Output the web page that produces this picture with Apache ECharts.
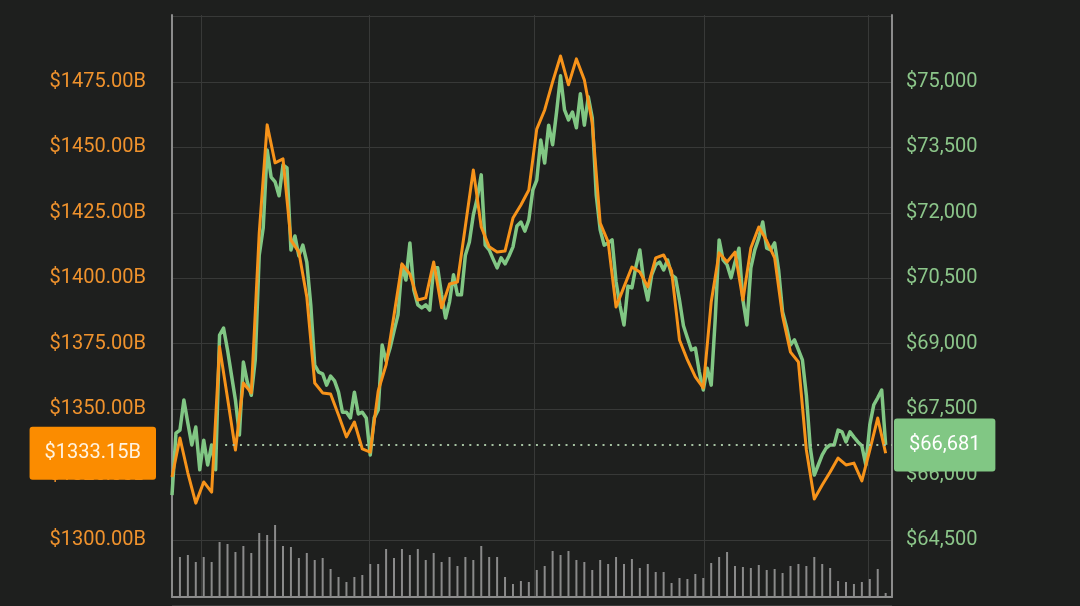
<!DOCTYPE html>
<html>
<head>
<meta charset="utf-8">
<script src="https://cdn.jsdelivr.net/npm/echarts@6/dist/echarts.min.js"></script>
<style>
html,body{margin:0;padding:0;background:#1e1f1e;}
#chart{width:1080px;height:606px;}
</style>
</head>
<body>
<div id="chart"></div>
<script>
// ---- data ----
// market cap (billions USD), one value per volume bar
const marketCapB = [
  1324.1, 1339.0, 1325.6, 1314.1, 1322.2, 1318.3, 1373.8, 1354.3, 1334.4, 1360.0,
  1356.2, 1417.3, 1458.6, 1444.1, 1445.6, 1414.6, 1410.0, 1392.9, 1360.0, 1356.2,
  1355.8, 1347.8, 1339.4, 1345.1, 1334.8, 1333.6, 1356.9, 1366.9, 1386.0, 1405.5,
  1401.6, 1391.7, 1392.5, 1406.2, 1388.7, 1397.8, 1398.6, 1420.0, 1441.4, 1419.6,
  1412.0, 1410.0, 1410.4, 1423.0, 1428.0, 1433.7, 1457.0, 1464.3, 1475.0, 1484.9,
  1473.9, 1483.8, 1475.8, 1459.3, 1421.1, 1413.9, 1389.0, 1396.7, 1404.3, 1402.4,
  1396.7, 1407.8, 1408.9, 1402.8, 1376.4, 1368.8, 1362.3, 1358.1, 1390.9, 1409.7,
  1406.2, 1410.0, 1391.7, 1411.6, 1419.6, 1414.3, 1407.8, 1385.6, 1371.8, 1368.0,
  1334.4, 1315.7, 1321.0, 1326.0, 1331.3, 1328.7, 1329.4, 1322.6, 1334.4, 1346.6,
  1333.15
];
// price (USD), two values per volume bar
const priceUsd = [
  65530, 66950, 67020, 67710, 67180, 66680, 67090, 66110, 66790, 66220,
  66680, 66110, 69200, 69360, 68860, 68280, 67710, 66910, 68580, 68120,
  67820, 68630, 71030, 71650, 73440, 72820, 72710, 72390, 73100, 73030,
  71150, 71470, 71010, 71260, 70870, 69890, 68510, 68350, 68310, 68050,
  68260, 68150, 67890, 67430, 67430, 67300, 67890, 67390, 67430, 67300,
  66450, 67300, 67480, 68970, 68600, 68900, 69290, 69660, 70800, 70460,
  71310, 70230, 69890, 69820, 69890, 69770, 70740, 70740, 70120, 69590,
  69960, 70580, 70120, 70120, 71030, 71330, 71950, 72340, 72870, 71260,
  71150, 70940, 70740, 70970, 70830, 71010, 71220, 71700, 71790, 71580,
  71840, 72520, 72750, 73670, 73140, 74010, 73560, 74310, 75140, 74360,
  74130, 74310, 73950, 74730, 74010, 74660, 74180, 72410, 71610, 71260,
  71310, 71380, 70420, 69870, 69430, 70320, 70280, 70760, 71150, 70420,
  70000, 70580, 70810, 70870, 70690, 70920, 70580, 70510, 70000, 69410,
  69130, 68860, 68900, 68350, 67940, 68440, 68050, 69540, 71380, 70920,
  70810, 70510, 70870, 71190, 70000, 69430, 70740, 71150, 71420, 71790,
  71190, 71150, 71310, 70690, 69730, 69380, 68970, 69090, 68860, 68630,
  67820, 66610, 65990, 66220, 66450, 66610, 66680, 66680, 67020, 66980,
  66750, 66980, 66860, 66750, 66660, 66220, 67140, 67600, 67760, 67940,
  66681
];
// traded volume (relative units)
const volume = [
  29,
  40, 42, 35, 40, 35, 55, 53, 45, 51, 44, 64, 62, 72, 51, 50,
  39, 44, 37, 39, 28, 20, 15, 20, 22, 33, 33, 48, 39, 48, 42,
  48, 37, 44, 35, 40, 31, 40, 37, 51, 40, 40, 20, 13, 16, 15,
  27, 31, 46, 42, 46, 37, 35, 27, 37, 33, 40, 33, 38, 29, 33,
  25, 25, 14, 19, 18, 23, 19, 34, 40, 45, 31, 30, 29, 32, 27,
  28, 24, 31, 33, 31, 40, 33, 29, 16, 15, 13, 15, 18, 28, 4
];
// axis ticks
const capAxis = { min: 1275, max: 1500, step: 25 };
const priceAxis = { min: 63000, max: 76500, step: 1500 };
const timeAxisMax = 90.8;
const timeGridTicks = [3.66, 24.84, 45.65, 67.09, 87.77];
const referenceLineStart = 6.7;

const lastCap = marketCapB[marketCapB.length - 1];
const lastPrice = priceUsd[priceUsd.length - 1];

const chart = echarts.init(document.getElementById('chart'), null, { renderer: 'canvas' });

const gridLineColor = '#383938';
const frameColor = '#8c8c8c';

const option = {
  backgroundColor: '#1e1f1e',
  animation: false,
  textStyle: { fontFamily: 'Roboto' },
  grid: [
    { left: 172, right: 188, top: 16.5, height: 589 },
    { left: 172, right: 188, top: 15, bottom: 9 }
  ],
  xAxis: [
    {
      gridIndex: 0, type: 'value', min: 0, max: timeAxisMax,
      axisLine: { show: false, onZero: false },
      axisTick: { show: false }, axisLabel: { show: false },
      splitLine: { show: false }
    },
    {
      gridIndex: 1, type: 'value', min: 0, max: timeAxisMax,
      axisLine: { show: true, onZero: false, lineStyle: { color: frameColor, width: 2 } },
      axisTick: { show: false, customValues: timeGridTicks },
      axisLabel: { show: false },
      splitLine: { show: true, lineStyle: { color: gridLineColor, width: 1 } }
    }
  ],
  yAxis: [
    {
      gridIndex: 0, type: 'value', position: 'left',
      min: capAxis.min, max: capAxis.max, interval: capAxis.step,
      axisLine: { show: false, onZero: false }, axisTick: { show: false },
      axisLabel: {
        color: '#ef922d', fontSize: 20, margin: 26, fontFamily: 'Roboto',
        showMinLabel: false, showMaxLabel: false,
        formatter: v => '$' + v.toFixed(2) + 'B'
      },
      splitLine: { show: true, lineStyle: { color: gridLineColor, width: 1 } }
    },
    {
      gridIndex: 0, type: 'value', position: 'right',
      min: priceAxis.min, max: priceAxis.max, interval: priceAxis.step,
      axisLine: { show: false, onZero: false }, axisTick: { show: false },
      axisLabel: {
        color: '#8cc68a', fontSize: 20, margin: 14, fontFamily: 'Roboto',
        showMinLabel: false, showMaxLabel: false,
        formatter: v => '$' + v.toLocaleString('en-US')
      },
      splitLine: { show: false }
    },
    {
      gridIndex: 1, type: 'value', position: 'left', min: 0, max: 582,
      axisLine: { show: true, onZero: false, lineStyle: { color: frameColor, width: 2 } },
      axisTick: { show: false }, axisLabel: { show: false }, splitLine: { show: false }
    },
    {
      gridIndex: 1, type: 'value', position: 'right', min: 0, max: 582,
      axisLine: { show: true, onZero: false, lineStyle: { color: frameColor, width: 2 } },
      axisTick: { show: false }, axisLabel: { show: false }, splitLine: { show: false }
    }
  ],
  series: [
    {
      name: 'Volume', type: 'bar', xAxisIndex: 1, yAxisIndex: 2,
      data: volume.map((v, i) => [i, v]),
      barWidth: 2, silent: true,
      itemStyle: { color: '#8a8a8a' }
    },
    {
      name: 'Price', type: 'line', xAxisIndex: 0, yAxisIndex: 1,
      data: priceUsd.map((v, k) => [k * 0.5, v]),
      showSymbol: false, symbol: 'none', silent: true,
      lineStyle: { color: '#81c784', width: 3.5, join: 'round' },
      itemStyle: { color: '#81c784' },
      markLine: {
        silent: true, symbol: ['none', 'none'],
        lineStyle: { color: '#a6c2a2', type: [2, 5.4], width: 2 },
        label: {
          show: true, position: 'end', distance: 2,
          formatter: () => '$' + lastPrice.toLocaleString('en-US'),
          backgroundColor: '#81c784', color: '#ffffff', fontSize: 20, lineHeight: 21,
          fontFamily: 'Roboto', padding: [16, 15, 16, 15], borderRadius: 3
        },
        emphasis: { disabled: true },
        data: [[{ coord: [referenceLineStart, lastPrice] }, { coord: [timeAxisMax, lastPrice] }]]
      }
    },
    {
      name: 'Market Cap', type: 'line', xAxisIndex: 0, yAxisIndex: 0,
      data: marketCapB.map((v, i) => [i, v]),
      showSymbol: false, symbol: 'none', silent: true,
      lineStyle: { color: '#f7931a', width: 3, join: 'round' },
      itemStyle: { color: '#f7931a' },
      markLine: {
        silent: true, symbol: ['none', 'none'],
        lineStyle: { color: 'rgba(0,0,0,0)', width: 1, type: 'solid' },
        label: {
          show: true, position: 'start', distance: 16,
          formatter: () => '$' + lastCap.toFixed(2) + 'B',
          backgroundColor: '#fb8c00', color: '#fff3e0', fontSize: 20, lineHeight: 21,
          fontFamily: 'Roboto', padding: [16, 15, 16, 15], borderRadius: 3
        },
        emphasis: { disabled: true },
        data: [[{ coord: [0, lastCap] }, { coord: [timeAxisMax, lastCap] }]]
      }
    }
  ]
};
chart.setOption(option);
</script>
</body>
</html>
